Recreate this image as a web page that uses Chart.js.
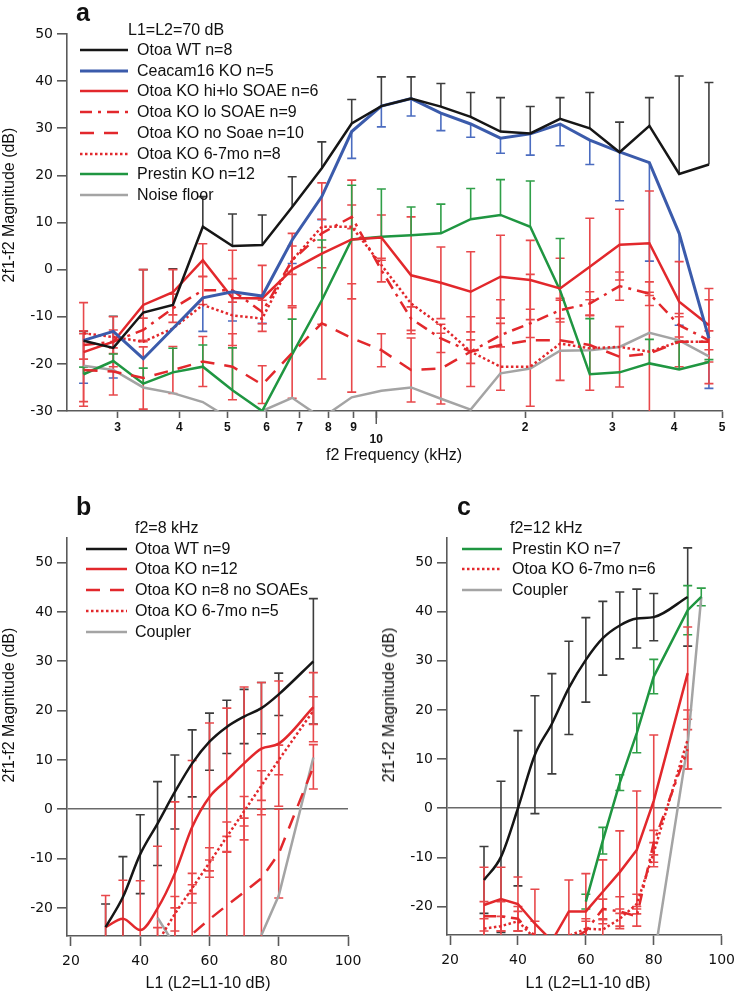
<!DOCTYPE html>
<html><head><meta charset="utf-8">
<script src="https://cdn.jsdelivr.net/npm/chart.js@4.4.1/dist/chart.umd.min.js"></script>
<style>
html,body{margin:0;padding:0;background:#fff;}
body{width:742px;height:993px;position:relative;overflow:hidden;font-family:"Liberation Sans",Arial,sans-serif;color:#111;}
canvas{position:absolute;}
.t{position:absolute;white-space:nowrap;font-size:16px;line-height:16px;}
.lab{position:absolute;font-weight:bold;font-size:25px;line-height:25px;}
.yt{position:absolute;white-space:nowrap;font-size:16px;line-height:16px;transform:translate(-50%,-50%) rotate(-90deg);}
.xt{position:absolute;white-space:nowrap;font-size:16px;line-height:16px;transform:translate(-50%,-50%);}
svg{position:absolute;overflow:visible;}
</style>
</head><body>
<canvas id="ca" width="742" height="470" style="left:0;top:0"></canvas>
<canvas id="cb" width="370" height="523" style="left:0;top:470px"></canvas>
<canvas id="cc" width="372" height="523" style="left:370px;top:470px"></canvas>
<div id="over"></div>
<script>
// ---------------- DATA ----------------
// Panel a: f2 frequency (kHz), L1=L2=70 dB
const freqA = [2.56, 2.94, 3.38, 3.88, 4.46, 5.12, 5.88, 6.76, 7.76, 8.92, 10.24, 11.76, 13.51, 15.52, 17.83, 20.48, 23.53, 27.02, 31.04, 35.66, 40.96, 47.05];
const wtA      = [-15.1, -16.6, -9.1, -7.5, 9.1, 5.0, 5.2, 13.3, 21.5, 31.0, 34.7, 36.3, 34.6, 32.4, 29.3, 28.9, 32.0, 30.0, 24.9, 30.5, 20.3, 22.3];
const wtErrA   = [2, 6.7, 9.1, 7.7, 6.4, 6.8, 6.4, 6.4, 5.6, 5.1, 6.2, 4.6, 4.9, 5.2, 7.2, 5.7, 4.5, 7.6, 6.4, 6.0, 20.8, 17.4];
const ceacamA  = [-15.0, -13.1, -18.9, -12.5, -6.0, -4.7, -5.6, 6.3, 15.5, 29.3, 34.7, 36.3, 33.2, 30.9, 27.9, 28.8, 30.9, 27.5, 25.0, 22.7, 7.7, -14.6];
const ceacamErrA = [9.1, 9.9, 0, 0, 7.1, 6.2, 5.8, 5, 4.9, 5.7, 4.4, 3.7, 3.7, 2.8, 3.2, 4.5, 4.6, 5.2, 10.4, 20.9, 19.5, 10.6];
const hiloA    = [-17.5, -15.3, -7.5, -4.8, 2.0, -6.0, -6.1, 0.0, 3.4, 6.4, 6.8, -1.2, -2.8, -4.7, -1.5, -2.2, -4.0, 0.6, 5.3, 5.6, -6.8, -11.8];
const hiloErrA = [10.5, 5.3, 7.5, 4.8, 3.5, 10.1, 7, 7.7, 15, 12.6, 4.8, 12.4, 7.6, 8.5, 8.8, 8.4, 6.4, 10.3, 7.5, 11.1, 8.5, 7.8];
const loSoaeA  = [-16, -15.3, -12.8, -8.2, -4.4, -4.4, -9.0, 2.0, 7.7, 11.2, -0.1, -10.4, -14.6, -17.4, -13.9, -11.4, -8.6, -7.2, -3.5, -5.1, -11.8, -15.0];
const loSoaeErrA = [3, 2.5, 2.5, 3, 3, 2.5, 2.5, 3, 3, 2.5, 2.5, 2.5, 3, 2.5, 2.5, 3, 2.5, 2.5, 3, 2.5, 2.5, 2];
const noSoaeA  = [-21.3, -21.6, -23.0, -21.3, -19.5, -20.6, -24.4, -17.7, -11.4, -14.5, -17.1, -21.3, -21.0, -17.4, -16.0, -15.0, -15.0, -16.0, -18.5, -17.8, -15.3, -15.3];
const noSoaeErrA = [7.7, 5, 6.6, 5, 5.3, 7, 4, 9.6, 11.8, 11.5, 3.5, 6.8, 7.5, 7.4, 9.6, 14, 8.5, 9.6, 6.4, 13, 5.3, 8.9];
const oldA     = [-13.5, -14.3, -15.3, -12.5, -7.5, -9.7, -10.4, 2.0, 9.1, 9.1, 1.0, -7.2, -11.8, -17.4, -20.6, -20.6, -15.7, -16.7, -16.4, -17.4, -15.3, -15.3];
const prestinA = [-22.2, -19.4, -24.2, -21.8, -20.6, -25.6, -30, -18.0, -6.5, 6.4, 7.0, 7.3, 7.7, 10.7, 11.6, 9.1, -4.4, -22.2, -21.8, -19.9, -21.2, -19.6];
const prestinErrA = [1.5, 1.5, 3.3, 5.1, 4.6, 9, 0, 7.5, 12.8, 11.5, 10.1, 6, 6.2, 6.5, 7.5, 9.7, 11, 11.8, 0, 5.1, 6, 0.5];
const noiseA   = [-20.4, -21.3, -25.0, -26.2, -28.1, -32, -30, -27.2, -31.5, -27.1, -25.7, -25.0, -27.4, -29.7, -22.0, -21.0, -17.2, -17.1, -16.4, -13.4, -15.0, -18.4];
const xTicksA  = [3, 4, 5, 6, 7, 8, 9, 10, 20, 30, 40, 50];
const yTicksA  = [-30, -20, -10, 0, 10, 20, 30, 40, 50];

// Panel b: f2 = 8 kHz, L1 (dB)
const levB    = [30, 35, 40, 45, 50, 55, 60, 65, 70, 75, 80, 90];
const wtB     = [-23.9, -17.8, -9.1, -2.9, 3.5, 9.3, 13.7, 16.7, 18.8, 20.5, 23.3, 30.0];
const wtErrB  = [4.7, 8.2, 8, 8.5, 7.5, 6.8, 5.8, 5.4, 5.5, 5.2, 4.3, 12.7];
const koB     = [-23.9, -22.2, -24.5, -20.1, -13.0, -3.6, 2.5, 5.9, 9.3, 12.3, 13.3, 20.7];
const koErrB  = [6.4, 7.8, 10, 12.6, 14.5, 13.5, 15, 14.6, 15.5, 13.4, 12.7, 7];
const noSoaeB = [null, null, null, null, -28, -25.3, -22.3, -19.5, -16.8, -14.0, -9.0, 8.6];
const noSoaeErrB = [0, 0, 0, 0, 8, 10, 12, 14, 15, 14, 9, 4.5];
const oldB    = [null, null, null, -27, -21.2, -16.0, -10.8, -5.6, -0.4, 4.8, 10.0, 20.0];
const oldErrB = [0, 0, 0, 3, 3.5, 3, 3, 3, 3, 3, 3, 2.8];
const coupB   = [null, null, null, -22, -27.6, null, null, null, null, -25.5, -17.5, 10.5];

// Panel c: f2 = 12 kHz, L1 (dB)
const levC     = [30, 35, 40, 45, 50, 55, 60, 65, 70, 75, 80, 90, 94];
const wtC      = [-14.6, -9.9, 0, 10.9, 17.2, 24.5, 30.2, 34.6, 37.2, 38.6, 38.9, 43.0, null];
const wtErrC   = [6.8, 15.4, 15.8, 12, 10.2, 9.5, 8.6, 7.5, 6.8, 6, 4.8, 10, 0];
const prestinC = [null, null, null, null, null, null, -19.0, -6.6, 5.2, 15.3, 26.8, 40.3, 43.0];
const prestinErrC = [0, 0, 0, 0, 0, 0, 1.5, 2.7, 1.6, 4, 3.5, 5, 1.8];
const koC      = [-19.7, -18.5, -19.5, -23.5, -27, -21, -21, -17, -13, -8.5, 1.5, 27.5, null];
const koErrC   = [7.7, 6.5, 5.5, 7, 0, 6.4, 7.7, 6.5, 8.4, 12, 13.4, 9.4, 0];
const loC      = [-22, -22, -22.5, -26, -28, -27, -25, -20.5, -21, -22, -7, 12, null];
const loErrC   = [3, 3, 2.5, 3, 0, 0, 2, 2, 3, 2, 2.5, 4, 0];
const oldC     = [-24.5, -24, -23, -26.5, -27, -26, -24.5, -24.7, -22.5, -19.5, -9, 14, null];
const oldErrC  = [2, 2, 2, 0, 0, 0, 2, 2, 2, 2, 2, 6, 0];
const coupC    = [null, null, null, null, null, null, null, null, null, null, -31, 13, 43];
const xTicksBC = [20, 40, 60, 80, 100];
const yTicksBC = [-20, -10, 0, 10, 20, 30, 40, 50];

// ---------------- STYLE ----------------
const COL = {black:'#161616', blue:'#3b5bab', red:'#e2282c', green:'#1f9641', gray:'#a4a4a4'};
const ERR = {black:'#3d3d3d', blue:'#4b6cc0', red:'#e8484b', green:'#2f9f48'};
const AX = '#5a5a5a';
const DASH = {solid:[], dashdot:[12,6,3,6], dashed:[14,10], dotted:[2.5,2.5]};
const pts = (xs, ys) => xs.map((x,i)=>({x:x, y:ys[i]}));

function ds(label, xs, ys, color, dash, o){
  return Object.assign({label:label, data:pts(xs,ys), borderColor:color, backgroundColor:color,
    borderWidth:2.5, borderDash:DASH[dash], pointRadius:0, pointHoverRadius:0, tension:0,
    spanGaps:false, fill:false}, o||{});
}

const errorBars = {
  id:'errorBars',
  beforeDatasetsDraw(chart){
    const ctx = chart.ctx, a = chart.chartArea, y = chart.scales.y;
    ctx.save();
    ctx.beginPath(); ctx.rect(a.left, a.top-6, a.right-a.left, a.bottom-a.top+6); ctx.clip();
    chart.data.datasets.forEach((d,i)=>{
      if(!d.err) return;
      const meta = chart.getDatasetMeta(i);
      ctx.strokeStyle = d.errColor; ctx.lineWidth = 1.6; ctx.setLineDash([]);
      meta.data.forEach((p,j)=>{
        const e = d.err[j], v = d.data[j].y;
        if(v==null || !e) return;
        const x = p.x, yc = y.getPixelForValue(v);
        const top = d.errDir==='down' ? yc : y.getPixelForValue(v+e);
        const bot = d.errDir==='up' ? yc : y.getPixelForValue(v-e);
        const cap = 4.5;
        ctx.beginPath(); ctx.moveTo(x,top); ctx.lineTo(x,bot);
        if(d.errDir!=='down'){ctx.moveTo(x-cap,top); ctx.lineTo(x+cap,top);}
        if(d.errDir!=='up'){ctx.moveTo(x-cap,bot); ctx.lineTo(x+cap,bot);}
        ctx.stroke();
      });
    });
    ctx.restore();
  }
};

const longTick = {
  id:'longTick',
  afterDraw(chart, args, opts){
    if(!opts || opts.value==null) return;
    const ctx = chart.ctx, xs = chart.scales.x, b = chart.chartArea.bottom;
    const x = xs.getPixelForValue(opts.value);
    ctx.save(); ctx.strokeStyle = AX; ctx.lineWidth = 1.5;
    ctx.beginPath(); ctx.moveTo(x,b); ctx.lineTo(x,b+13); ctx.stroke(); ctx.restore();
  }
};

const tickFont = {family:'"DejaVu Sans", Verdana, sans-serif', size:14};
function yScale(min, max, ticks, width, zeroLine){
  return {
    min:min, max:max,
    afterBuildTicks(s){ s.ticks = ticks.map(v=>({value:v})); },
    afterFit(s){ s.width = width; },
    border:{display:true, color:AX, width:1.6},
    grid:{display:true, drawOnChartArea:!!zeroLine, drawTicks:true, tickLength:10, tickColor:AX, tickWidth:1.6,
      color:(c)=> (zeroLine && c.tick && c.tick.value===0) ? '#6a6a6a' : 'rgba(0,0,0,0)', lineWidth:1.6},
    ticks:{padding:4, color:'#111', font:tickFont, callback:(v)=>String(v)}
  };
}

function baseOptions(pad, xscale, yscale, extraPlugins){
  return {
    responsive:false, animation:false, devicePixelRatio:1,
    layout:{padding:pad},
    plugins:Object.assign({legend:{display:false}, tooltip:{enabled:false}, title:{display:false}}, extraPlugins||{}),
    scales:{x:xscale, y:yscale},
    events:[]
  };
}

// ---------------- PANEL A ----------------
const dsA = [
  ds('Otoa WT n=8', freqA, wtA, COL.black, 'solid', {err:wtErrA, errDir:'up', errColor:ERR.black}),
  ds('Ceacam16 KO n=5', freqA, ceacamA, COL.blue, 'solid', {borderWidth:3, err:ceacamErrA, errDir:'down', errColor:ERR.blue}),
  ds('Otoa KO hi+lo SOAE n=6', freqA, hiloA, COL.red, 'solid', {err:hiloErrA, errDir:'both', errColor:ERR.red}),
  ds('Otoa KO lo SOAE n=9', freqA, loSoaeA, COL.red, 'dashdot', {err:loSoaeErrA, errDir:'both', errColor:ERR.red}),
  ds('Otoa KO no Soae n=10', freqA, noSoaeA, COL.red, 'dashed', {err:noSoaeErrA, errDir:'both', errColor:ERR.red}),
  ds('Otoa KO 6-7mo n=8', freqA, oldA, COL.red, 'dotted'),
  ds('Prestin KO n=12', freqA, prestinA, COL.green, 'solid', {err:prestinErrA, errDir:'up', errColor:ERR.green}),
  ds('Noise floor', freqA, noiseA, COL.gray, 'solid')
];
new Chart(document.getElementById('ca'), {
  type:'line',
  data:{datasets:dsA},
  options:baseOptions({top:34, right:20, bottom:0, left:0},
    {type:'logarithmic', min:2.37, max:50,
     afterBuildTicks(s){ s.ticks = xTicksA.map(v=>({value:v})); },
     afterFit(s){ s.height = 59; },
     border:{display:true, color:AX, width:1.6},
     grid:{display:true, drawOnChartArea:false, drawTicks:true, tickLength:7, tickColor:AX, tickWidth:1.6},
     ticks:{autoSkip:false, maxRotation:0, minRotation:0, padding:4, color:'#111',
       font:{family:'"Liberation Sans", Arial, sans-serif', size:12, weight:'bold', lineHeight:1},
       callback:(v)=> v===10 ? ['', '10'] : (v>10 ? String(v/10) : String(v))}},
    yScale(-30, 50, yTicksA, 67, false),
    {longTick:{value:10}}),
  plugins:[errorBars, longTick]
});

// ---------------- PANEL B ----------------
const dsB = [
  ds('Otoa WT n=9', levB, wtB, COL.black, 'solid', {cubicInterpolationMode:'monotone', err:wtErrB, errDir:'both', errColor:ERR.black}),
  ds('Otoa KO n=12', levB, koB, COL.red, 'solid', {cubicInterpolationMode:'monotone', err:koErrB, errDir:'both', errColor:ERR.red}),
  ds('Otoa KO n=8 no SOAEs', levB, noSoaeB, COL.red, 'dashed', {err:noSoaeErrB, errDir:'both', errColor:ERR.red}),
  ds('Otoa KO 6-7mo n=5', levB, oldB, COL.red, 'dotted', {err:oldErrB, errDir:'both', errColor:ERR.red}),
  ds('Coupler', levB, coupB, COL.gray, 'solid')
];
function linX(min, max, h){
  return {type:'linear', min:min, max:max,
    afterBuildTicks(s){ s.ticks = xTicksBC.map(v=>({value:v})); },
    afterFit(s){ s.height = h; },
    border:{display:true, color:AX, width:1.6},
    grid:{display:true, drawOnChartArea:false, drawTicks:true, tickLength:10, tickColor:AX, tickWidth:1.6},
    ticks:{autoSkip:false, maxRotation:0, padding:7, color:'#111', font:tickFont, callback:(v)=>String(v)}};
}
new Chart(document.getElementById('cb'), {
  type:'line',
  data:{datasets:dsB},
  options:baseOptions({top:68, right:22, bottom:0, left:0}, linX(18.85, 100, 57), yScale(-25.7, 55, yTicksBC, 67, true)),
  plugins:[errorBars]
});

// ---------------- PANEL C ----------------
const dsC = [
  ds('Otoa WT', levC, wtC, COL.black, 'solid', {cubicInterpolationMode:'monotone', err:wtErrC, errDir:'both', errColor:ERR.black}),
  ds('Prestin KO n=7', levC, prestinC, COL.green, 'solid', {err:prestinErrC, errDir:'both', errColor:ERR.green}),
  ds('Otoa KO', levC, koC, COL.red, 'solid', {err:koErrC, errDir:'both', errColor:ERR.red}),
  ds('Otoa KO lo SOAE', levC, loC, COL.red, 'dashdot', {err:loErrC, errDir:'both', errColor:ERR.red}),
  ds('Otoa KO 6-7mo n=6', levC, oldC, COL.red, 'dotted', {err:oldErrC, errDir:'both', errColor:ERR.red}),
  ds('Coupler', levC, coupC, COL.gray, 'solid')
];
new Chart(document.getElementById('cc'), {
  type:'line',
  data:{datasets:dsC},
  options:baseOptions({top:68, right:14, bottom:0, left:0}, linX(19.1, 100, 58), yScale(-25.8, 55, yTicksBC, 77, true)),
  plugins:[errorBars]
});

// ---------------- TEXT / LEGENDS ----------------
const over = document.getElementById('over');
function txt(cls, s, left, top){
  const d = document.createElement('div'); d.className = cls; d.textContent = s;
  d.style.left = left+'px'; d.style.top = top+'px'; over.appendChild(d); return d;
}
function sample(d, x1, x2, cy){
  const ns = 'http://www.w3.org/2000/svg';
  const s = document.createElementNS(ns,'svg');
  s.setAttribute('width', x2-x1); s.setAttribute('height', 8);
  s.style.left = x1+'px'; s.style.top = (cy-4)+'px';
  const l = document.createElementNS(ns,'line');
  l.setAttribute('x1',0); l.setAttribute('x2',x2-x1); l.setAttribute('y1',4); l.setAttribute('y2',4);
  l.setAttribute('stroke', d.borderColor); l.setAttribute('stroke-width', d.borderWidth);
  if(d.borderDash.length) l.setAttribute('stroke-dasharray', d.borderDash.join(' '));
  s.appendChild(l); over.appendChild(s);
}
function legend(title, tx, ty, items, x1, x2, textX, y0, dy){
  txt('t', title, tx, ty-8);
  items.forEach((d,i)=>{ const cy = y0 + i*dy; sample(d, x1, x2, cy); txt('t', d.label, textX, cy-8); });
}
legend('L1=L2=70 dB', 128, 30, dsA, 80, 128, 137, 50, 20.7);
legend('f2=8 kHz', 135, 528, dsB, 86, 127, 135, 548.5, 20.9);
legend('f2=12 kHz', 510, 528, [dsC[1], dsC[4], dsC[5]], 462, 502, 512, 548.5, 20.9);

txt('lab','a',76,0);
txt('lab','b',76,494);
txt('lab','c',457,494);

txt('yt','2f1-f2 Magnitude (dB)', 9, 205);
txt('yt','2f1-f2 Magnitude (dB)', 9, 705);
txt('yt','2f1-f2 Magnitude (dB)', 389, 705);
txt('xt','f2 Frequency (kHz)', 394, 455);
txt('xt','L1 (L2=L1-10 dB)', 208, 983);
txt('xt','L1 (L2=L1-10 dB)', 588, 983);
</script>
</body></html>
